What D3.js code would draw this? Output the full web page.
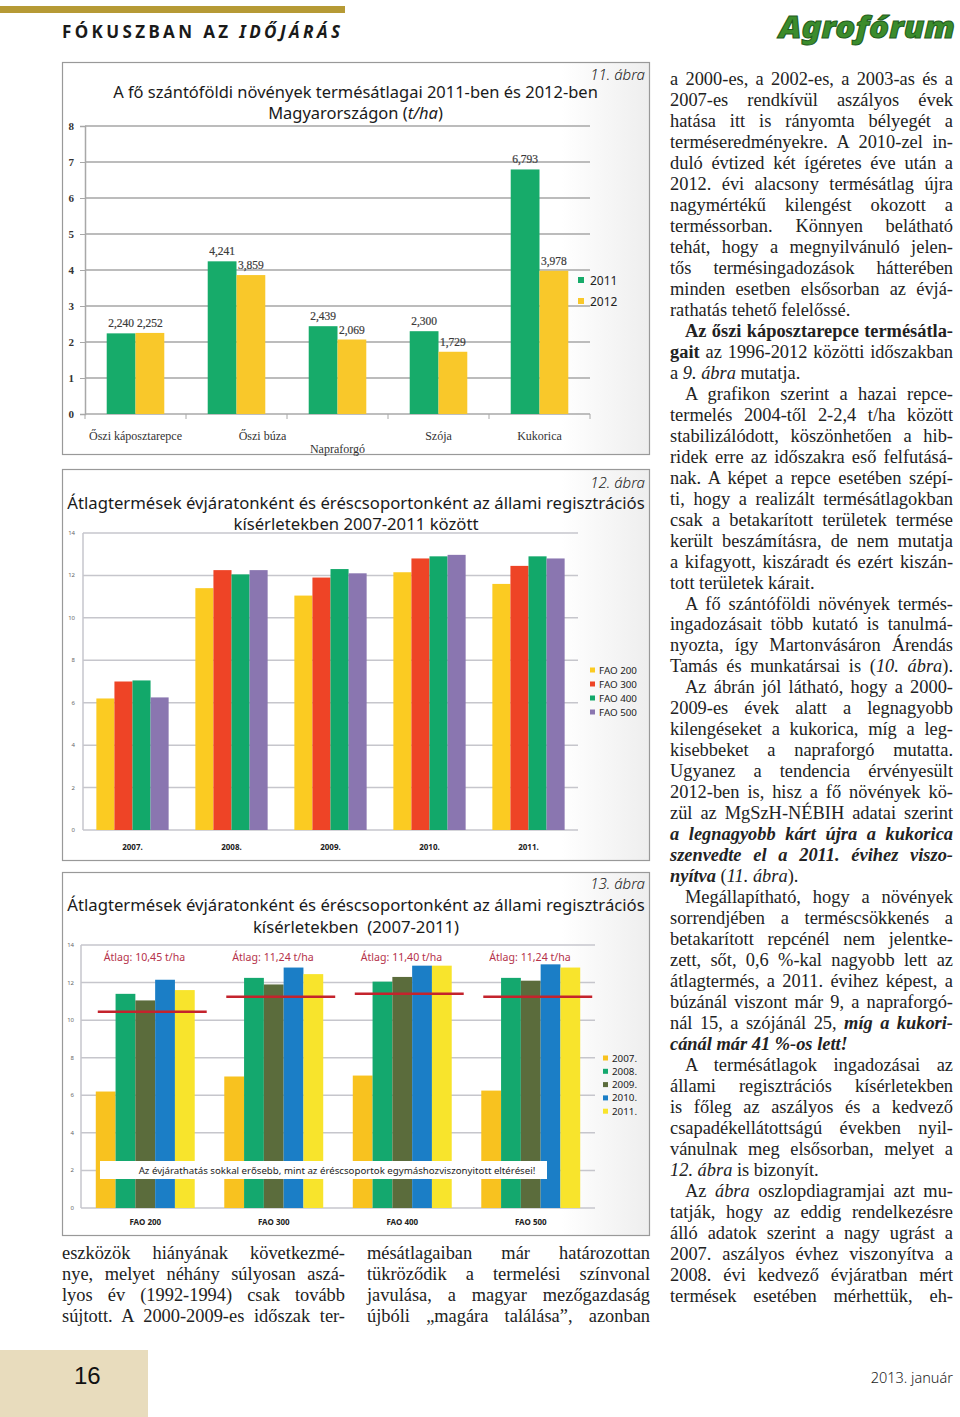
<!DOCTYPE html>
<html>
<head>
<meta charset="utf-8">
<script src="https://cdn.jsdelivr.net/npm/d3@7"></script>
<style>
  body { margin: 0; background: #fff; }
  svg { display: block; }
</style>
</head>
<body>
<script>
// 11. ábra – termésátlagok (t/ha)
const crops = ["Őszi káposztarepce", "Őszi búza", "Napraforgó", "Szója", "Kukorica"];
const seasons = ["2011", "2012"];
const yields2011 = [2.240, 4.241, 2.439, 2.300, 6.793];
const yields2012 = [2.252, 3.859, 2.069, 1.729, 3.978];
const ticks1 = [0, 1, 2, 3, 4, 5, 6, 7, 8];

// 12. / 13. ábra – évjárat x éréscsoport
const years = ["2007.", "2008.", "2009.", "2010.", "2011."];
const faoGroups = ["FAO 200", "FAO 300", "FAO 400", "FAO 500"];
const fao200 = [6.2, 11.4, 11.05, 12.15, 11.6];
const fao300 = [7.0, 12.25, 11.9, 12.8, 12.45];
const fao400 = [7.05, 12.05, 12.3, 12.9, 12.9];
const fao500 = [6.25, 12.25, 12.1, 12.97, 12.8];
const faoAverages = [10.45, 11.24, 11.40, 11.24];
const ticks2 = [0, 2, 4, 6, 8, 10, 12, 14];

const faoSeries = [fao200, fao300, fao400, fao500];

// colours
const col1 = {"2011": "#17ab6a", "2012": "#f9c82a"};
const col2 = {"FAO 200": "#fbcb22", "FAO 300": "#ee4426", "FAO 400": "#12a86a", "FAO 500": "#8a76b0"};
const col3 = {"2007.": "#f8c21f", "2008.": "#14a86e", "2009.": "#5b6c3c", "2010.": "#1b7ec6", "2011.": "#f8e42c"};

const sans = "'Noto Sans', 'Open Sans', sans-serif";
const serif = "'Liberation Serif', 'DejaVu Serif', serif";

const svg = d3.select("body").append("svg")
  .attr("width", 960)
  .attr("height", 1417);

// ---------- page header ----------
svg.append("rect").attr("x", 0).attr("y", 6).attr("width", 345).attr("height", 7).attr("fill", "#b69a35");
const head = svg.append("text").attr("x", 62).attr("y", 38)
  .attr("font-family", sans).attr("font-size", 17).attr("font-weight", "bold")
  .attr("fill", "#1a1a1a").attr("textLength", 278).attr("lengthAdjust", "spacing");
head.append("tspan").text("FÓKUSZBAN AZ ");
head.append("tspan").attr("font-style", "italic").text("IDŐJÁRÁS");

svg.append("text").attr("x", 955).attr("y", 38).attr("text-anchor", "end")
  .attr("font-family", sans).attr("font-size", 30).attr("font-weight", "900").attr("font-style", "italic")
  .attr("fill", "#3b8c2c").attr("stroke", "#1f5e1c").attr("stroke-width", 1)
  .attr("textLength", 176).attr("lengthAdjust", "spacingAndGlyphs")
  .text("Agrofórum");

// ---------- helpers ----------
function fitTitle(g, lines, cx, baselines, target) {
  const probe = g.append("text").attr("font-family", sans).attr("font-size", 16).text(lines[0]);
  const fs = 16 * target / probe.node().getComputedTextLength();
  probe.remove();
  lines.forEach((ln, i) => {
    const t = g.append("text").attr("x", cx).attr("y", baselines[i])
      .attr("text-anchor", "middle").attr("font-family", sans).attr("font-size", fs).attr("fill", "#1a1a1a")
      .style("white-space", "pre");
    parseLine(ln).forEach(s => t.append("tspan").attr("font-style", s.i ? "italic" : null).text(s.t));
  });
}

function figLabel(g, txt, y) {
  g.append("text").attr("x", 645).attr("y", y).attr("text-anchor", "end")
    .attr("font-family", sans).attr("font-size", 15).attr("font-style", "italic").attr("font-weight", 300)
    .attr("fill", "#222").text(txt);
}

function box(g, y0, h) {
  const grad = "shade" + y0;
  const lg = svg.append("defs").append("linearGradient").attr("id", grad).attr("x1", 0).attr("x2", 1);
  lg.append("stop").attr("offset", "0.85").attr("stop-color", "#ffffff");
  lg.append("stop").attr("offset", "1").attr("stop-color", "#eeeeee");
  g.append("rect").attr("x", 62.5).attr("y", y0 + 0.5).attr("width", 587).attr("height", h)
    .attr("fill", `url(#${grad})`).attr("stroke", "#999").attr("stroke-width", 1.2);
}

function parseLine(s) {
  const segs = [];
  const re = /<(bi|b|i)>(.*?)<\/\1>|([^<]+)/g;
  let m;
  while ((m = re.exec(s))) {
    if (m[3]) segs.push({t: m[3]});
    else segs.push({t: m[2], b: m[1].includes("b"), i: m[1].includes("i")});
  }
  return segs;
}

// ---------- 11. ábra ----------
const g1 = svg.append("g");
box(g1, 62, 392);
figLabel(g1, "11. ábra", 80);
fitTitle(g1, ["A fő szántóföldi növények termésátlagai 2011-ben és 2012-ben", "Magyarországon (<i>t/ha</i>)"], 355.5, [98, 119], 485);

const y1 = d3.scaleLinear().domain([0, 8]).range([414, 126]);
const x1 = d3.scaleBand().domain(crops).range([85, 590]).paddingInner(0.43).paddingOuter(0.215);
const xs1 = d3.scaleBand().domain(seasons).range([0, x1.bandwidth()]);

g1.append("g").selectAll("line").data(ticks1.slice(1)).join("line")
  .attr("x1", 85).attr("x2", 590).attr("y1", d => y1(d)).attr("y2", d => y1(d))
  .attr("stroke", "#bcbcbc").attr("stroke-width", 1.8);

const ax1 = g1.append("g").attr("transform", "translate(85,0)")
  .call(d3.axisLeft(y1).tickValues(ticks1).tickSize(5).tickPadding(6).tickFormat(d3.format("d")));
ax1.select(".domain").attr("stroke", "#a8a8a8").attr("stroke-width", 1.5);
ax1.selectAll(".tick line").attr("stroke", "#a8a8a8");
ax1.selectAll(".tick text").attr("font-family", serif).attr("font-size", 11).attr("font-weight", "bold").attr("fill", "#333");

// baseline + category separators
g1.append("line").attr("x1", 85).attr("x2", 590).attr("y1", y1(0)).attr("y2", y1(0)).attr("stroke", "#a8a8a8").attr("stroke-width", 1.5);
g1.append("g").selectAll("line").data(d3.range(crops.length + 1)).join("line")
  .attr("x1", i => 85 + i * x1.step()).attr("x2", i => 85 + i * x1.step())
  .attr("y1", y1(0)).attr("y2", y1(0) + 5).attr("stroke", "#a8a8a8");

const bars1 = crops.map((c, i) => [{c, s: "2011", v: yields2011[i]}, {c, s: "2012", v: yields2012[i]}]).flat();
const fmt1 = v => d3.format(".3f")(v).replace(".", ",");

g1.append("g").selectAll("rect").data(bars1).join("rect")
  .attr("x", d => x1(d.c) + xs1(d.s)).attr("width", xs1.bandwidth())
  .attr("y", d => y1(d.v)).attr("height", d => y1(0) - y1(d.v))
  .attr("fill", d => col1[d.s]);

g1.append("g").selectAll("text").data(bars1).join("text")
  .attr("x", d => x1(d.c) + xs1(d.s) + xs1.bandwidth() / 2).attr("y", d => y1(d.v) - 6)
  .attr("text-anchor", "middle").attr("font-family", serif).attr("font-size", 11.5).attr("fill", "#3a3a3a")
  .attr("stroke", "#3a3a3a").attr("stroke-width", 0.2)
  .text(d => fmt1(d.v));

g1.append("g").selectAll("text").data(crops).join("text")
  .attr("x", d => x1(d) + x1.bandwidth() / 2 + (d === "Őszi búza" ? 26 : 0))
  .attr("y", (d, i) => i === 2 ? 453 : 440)
  .attr("text-anchor", "middle").attr("font-family", serif).attr("font-size", 12).attr("fill", "#333")
  .text(d => d);

const lg1 = g1.append("g").selectAll("g").data(seasons).join("g")
  .attr("transform", (d, i) => `translate(578,${280 + i * 21})`);
lg1.append("rect").attr("x", 0).attr("y", -3).attr("width", 6).attr("height", 6).attr("fill", d => col1[d]);
lg1.append("text").attr("x", 12).attr("y", 4.5).attr("font-family", sans).attr("font-size", 12).attr("fill", "#222").text(d => d);

// ---------- 12. ábra ----------
const g2 = svg.append("g");
box(g2, 469, 391);
figLabel(g2, "12. ábra", 488);
fitTitle(g2, ["Átlagtermések évjáratonként és éréscsoportonként az állami regisztrációs", "kísérletekben 2007-2011 között"], 356, [509, 530], 578);

const y2 = d3.scaleLinear().domain([0, 14]).range([830, 533]);
const x2 = d3.scaleBand().domain(years).range([83, 578]).paddingInner(0.27).paddingOuter(0.135);
const xs2 = d3.scaleBand().domain(faoGroups).range([0, x2.bandwidth()]);

g2.append("g").selectAll("line").data(ticks2).join("line")
  .attr("x1", 83).attr("x2", 578).attr("y1", d => y2(d)).attr("y2", d => y2(d))
  .attr("stroke", "#c6c6cc").attr("stroke-width", 1.5);
g2.append("line").attr("x1", 83).attr("x2", 83).attr("y1", y2(14)).attr("y2", y2(0)).attr("stroke", "#c6c6cc").attr("stroke-width", 1.5);
g2.append("g").selectAll("text").data(ticks2).join("text")
  .attr("x", 75).attr("y", d => y2(d) + 2).attr("text-anchor", "end")
  .attr("font-family", sans).attr("font-size", 6).attr("fill", "#666").text(d => d);

const bars2 = years.map((yr, j) => faoGroups.map((f, k) => ({yr, f, v: faoSeries[k][j]}))).flat();
g2.append("g").selectAll("rect").data(bars2).join("rect")
  .attr("x", d => x2(d.yr) + xs2(d.f)).attr("width", xs2.bandwidth())
  .attr("y", d => y2(d.v)).attr("height", d => y2(0) - y2(d.v))
  .attr("fill", d => col2[d.f]);

g2.append("g").selectAll("text").data(years).join("text")
  .attr("x", d => x2(d) + x2.bandwidth() / 2).attr("y", 850).attr("text-anchor", "middle")
  .attr("font-family", sans).attr("font-size", 8).attr("font-weight", "bold").attr("fill", "#222").text(d => d);

const lg2 = g2.append("g").selectAll("g").data(faoGroups).join("g")
  .attr("transform", (d, i) => `translate(590,${670 + i * 14})`);
lg2.append("rect").attr("x", 0).attr("y", -2.5).attr("width", 5).attr("height", 5).attr("fill", d => col2[d]);
lg2.append("text").attr("x", 9).attr("y", 3.5).attr("font-family", sans).attr("font-size", 9.8).attr("fill", "#222").text(d => d);

// ---------- 13. ábra ----------
const g3 = svg.append("g");
box(g3, 872, 363);
figLabel(g3, "13. ábra", 889);
fitTitle(g3, ["Átlagtermések évjáratonként és éréscsoportonként az állami regisztrációs", "kísérletekben  (2007-2011)"], 356, [911, 933], 578);

const y3 = d3.scaleLinear().domain([0, 14]).range([1208, 945]);
const x3 = d3.scaleBand().domain(faoGroups).range([81, 595]).paddingInner(0.23).paddingOuter(0.115);
const xs3 = d3.scaleBand().domain(years).range([0, x3.bandwidth()]);

g3.append("g").selectAll("line").data(ticks2).join("line")
  .attr("x1", 81).attr("x2", 595).attr("y1", d => y3(d)).attr("y2", d => y3(d))
  .attr("stroke", "#c6c6cc").attr("stroke-width", 1.5);
g3.append("line").attr("x1", 81).attr("x2", 81).attr("y1", y3(14)).attr("y2", y3(0)).attr("stroke", "#c6c6cc").attr("stroke-width", 1.5);
g3.append("g").selectAll("text").data(ticks2).join("text")
  .attr("x", 74).attr("y", d => y3(d) + 2).attr("text-anchor", "end")
  .attr("font-family", sans).attr("font-size", 6).attr("fill", "#666").text(d => d);

const bars3 = faoGroups.map((f, k) => years.map((yr, j) => ({f, yr, v: faoSeries[k][j]}))).flat();
g3.append("g").selectAll("rect").data(bars3).join("rect")
  .attr("x", d => x3(d.f) + xs3(d.yr)).attr("width", xs3.bandwidth())
  .attr("y", d => y3(d.v)).attr("height", d => y3(0) - y3(d.v))
  .attr("fill", d => col3[d.yr]);

// average lines + labels
const avg = faoGroups.map((f, k) => ({f, v: faoAverages[k]}));
g3.append("g").selectAll("line").data(avg).join("line")
  .attr("x1", d => x3(d.f) + 2).attr("x2", d => x3(d.f) + x3.bandwidth() + 12)
  .attr("y1", d => y3(d.v)).attr("y2", d => y3(d.v))
  .attr("stroke", "#c4232c").attr("stroke-width", 2.5);
g3.append("g").selectAll("text").data(avg).join("text")
  .attr("x", d => x3(d.f) + 8).attr("y", 961)
  .attr("font-family", sans).attr("font-size", 10.6).attr("fill", "#b5324a")
  .text(d => "Átlag: " + d3.format(".2f")(d.v).replace(".", ",") + " t/ha");

// note box
g3.append("rect").attr("x", 100).attr("y", 1161).attr("width", 447).attr("height", 18).attr("fill", "#fff");
g3.append("text").attr("x", 337).attr("y", 1173.5).attr("text-anchor", "middle")
  .attr("font-family", sans).attr("font-size", 9.7).attr("fill", "#222")
  .text("Az évjárathatás sokkal erősebb, mint az éréscsoportok egymáshozviszonyitott eltérései!");

g3.append("g").selectAll("text").data(faoGroups).join("text")
  .attr("x", d => x3(d) + x3.bandwidth() / 2).attr("y", 1225).attr("text-anchor", "middle")
  .attr("font-family", sans).attr("font-size", 8).attr("font-weight", "bold").attr("fill", "#222").text(d => d);

const lg3 = g3.append("g").selectAll("g").data(years).join("g")
  .attr("transform", (d, i) => `translate(603,${1058 + i * 13.3})`);
lg3.append("rect").attr("x", 0).attr("y", -2.5).attr("width", 5).attr("height", 5).attr("fill", d => col3[d]);
lg3.append("text").attr("x", 9).attr("y", 3.5).attr("font-family", sans).attr("font-size", 9.8).attr("fill", "#222").text(d => d);

// ---------- body text ----------
const rightCol = [
  "a 2000-es, a 2002-es, a 2003-as és a",
  "2007-es rendkívül aszályos évek",
  "hatása itt is rányomta bélyegét a",
  "terméseredményekre. A 2010-zel in-",
  "duló évtized két ígéretes éve után a",
  "2012. évi alacsony termésátlag újra",
  "nagymértékű kilengést okozott a",
  "terméssorban. Könnyen belátható",
  "tehát, hogy a megnyilvánuló jelen-",
  "tős termésingadozások hátterében",
  "minden esetben elsősorban az évjá-",
  "rathatás tehető felelőssé.$",
  "¶<b>Az őszi káposztarepce termésátla-</b>",
  "<b>gait</b> az 1996-2012 közötti időszakban",
  "a <i>9. ábra</i> mutatja.$",
  "¶A grafikon szerint a hazai repce-",
  "termelés 2004-től 2-2,4 t/ha között",
  "stabilizálódott, köszönhetően a hib-",
  "ridek erre az időszakra eső felfutásá-",
  "nak. A képet a repce esetében szépí-",
  "ti, hogy a realizált termésátlagokban",
  "csak a betakarított területek termése",
  "került beszámításra, de nem mutatja",
  "a kifagyott, kiszáradt és ezért kiszán-",
  "tott területek kárait.$",
  "¶A fő szántóföldi növények termés-",
  "ingadozásait több kutató is tanulmá-",
  "nyozta, így Martonvásáron Árendás",
  "Tamás és munkatársai is (<i>10. ábra</i>).",
  "¶Az ábrán jól látható, hogy a 2000-",
  "2009-es évek alatt a legnagyobb",
  "kilengéseket a kukorica, míg a leg-",
  "kisebbeket a napraforgó mutatta.",
  "Ugyanez a tendencia érvényesült",
  "2012-ben is, hisz a fő növények kö-",
  "zül az MgSzH-NÉBIH adatai szerint",
  "<bi>a legnagyobb kárt újra a kukorica</bi>",
  "<bi>szenvedte el a 2011. évihez viszo-</bi>",
  "<bi>nyítva</bi> (<i>11. ábra</i>).$",
  "¶Megállapítható, hogy a növények",
  "sorrendjében a terméscsökkenés a",
  "betakarított repcénél nem jelentke-",
  "zett, sőt, 0,6 %-kal nagyobb lett az",
  "átlagtermés, a 2011. évihez képest, a",
  "búzánál viszont már 9, a napraforgó-",
  "nál 15, a szójánál 25, <bi>míg a kukori-</bi>",
  "<bi>cánál már 41 %-os lett!</bi>$",
  "¶A termésátlagok ingadozásai az",
  "állami regisztrációs kísérletekben",
  "is főleg az aszályos és a kedvező",
  "csapadékellátottságú években nyil-",
  "vánulnak meg elsősorban, melyet a",
  "<i>12. ábra</i> is bizonyít.$",
  "¶Az <i>ábra</i> oszlopdiagramjai azt mu-",
  "tatják, hogy az eddig rendelkezésre",
  "álló adatok szerint a nagy ugrást a",
  "2007. aszályos évhez viszonyítva a",
  "2008. évi kedvező évjáratban mért",
  "termések esetében mérhettük, eh-"
];
const bottomCol1 = [
  "eszközök hiányának következmé-",
  "nye, melyet néhány súlyosan aszá-",
  "lyos év (1992-1994) csak tovább",
  "sújtott. A 2000-2009-es időszak ter-"
];
const bottomCol2 = [
  "mésátlagaiban már határozottan",
  "tükröződik a termelési színvonal",
  "javulása, a magyar mezőgazdaság",
  "újbóli „magára találása”, azonban"
];

function column(lines, x, y0, width, lh) {
  const g = svg.append("g").attr("font-family", serif).attr("font-size", 18.4).attr("fill", "#222");
  lines.forEach((raw, i) => {
    let s = raw;
    const indent = s.startsWith("¶");
    if (indent) s = s.slice(1);
    const last = s.endsWith("$");
    if (last) s = s.slice(0, -1);
    const x0 = x + (indent ? 15 : 0);
    const w = width - (indent ? 15 : 0);
    const t = g.append("text").attr("x", x0).attr("y", y0 + i * lh);
    parseLine(s).forEach(seg => t.append("tspan")
      .attr("font-weight", seg.b ? "bold" : null)
      .attr("font-style", seg.i ? "italic" : null)
      .text(seg.t));
    if (!last) {
      const len = t.node().getComputedTextLength();
      const spaces = (s.replace(/<[^>]+>/g, "").match(/ /g) || []).length;
      if (len > w) t.attr("textLength", w).attr("lengthAdjust", "spacingAndGlyphs");
      else if (spaces) t.style("word-spacing", ((w - len) / spaces) + "px");
    }
  });
}

column(rightCol, 670, 85, 283, 20.98);
column(bottomCol1, 62, 1259, 283, 20.98);
column(bottomCol2, 367, 1259, 283, 20.98);

// ---------- footer ----------
svg.append("rect").attr("x", 0).attr("y", 1350).attr("width", 148).attr("height", 67).attr("fill", "#e8dcbd");
svg.append("text").attr("x", 74).attr("y", 1384).attr("font-family", "'Liberation Sans', sans-serif")
  .attr("font-size", 24).attr("fill", "#111").text("16");
svg.append("text").attr("x", 953).attr("y", 1383).attr("text-anchor", "end").attr("font-family", sans)
  .attr("font-size", 14.5).attr("font-weight", 300).attr("fill", "#222").text("2013. január");
</script>
</body>
</html>
